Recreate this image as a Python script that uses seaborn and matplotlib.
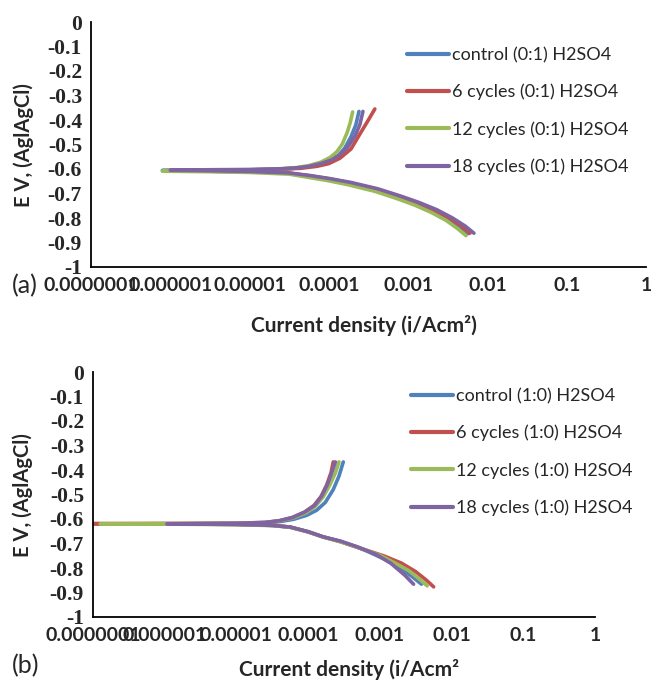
import numpy as np
import pandas as pd
import matplotlib
matplotlib.use('Agg')
import matplotlib.pyplot as plt
import seaborn as sns

sns.set_style('white')
plt.rcParams['font.family'] = ['Lato', 'DejaVu Sans']
plt.rcParams['axes.unicode_minus'] = False

COLORS = ['#4F81BD', '#C0504D', '#9BBB59', '#8064A2']
LABELS_A = ['control (0:1) H2SO4', '6 cycles (0:1) H2SO4', '12 cycles (0:1) H2SO4', '18 cycles (0:1) H2SO4']
LABELS_B = ['control (1:0) H2SO4', '6 cycles (1:0) H2SO4', '12 cycles (1:0) H2SO4', '18 cycles (1:0) H2SO4']
X_TICKS = [1e-7, 1e-6, 1e-5, 1e-4, 1e-3, 1e-2, 1e-1, 1]
X_TICK_LABELS = ['0.0000001', '0.000001', '0.00001', '0.0001', '0.001', '0.01', '0.1', '1']
Y_TICKS = [0, -0.1, -0.2, -0.3, -0.4, -0.5, -0.6, -0.7, -0.8, -0.9, -1]
Y_TICK_LABELS = ['0', '-0.1', '-0.2', '-0.3', '-0.4', '-0.5', '-0.6', '-0.7', '-0.8', '-0.9', '-1']

# panel (a): log10 of current density (A/cm2) and potential (V), sweep order
A_CTRL_LOGI = [-2.24, -2.35, -2.5, -2.69, -2.9, -3.11, -3.4, -3.74, -4.0, -4.24, -4.5, -5.0, -5.5, -6.1,
               -5.5, -5.0, -4.6, -4.4, -4.25, -4.1, -3.98, -3.88, -3.8, -3.72, -3.66, -3.62]
A_CTRL_E = [-0.864, -0.835, -0.80, -0.767, -0.738, -0.714, -0.683, -0.657, -0.641, -0.629, -0.617, -0.611, -0.609, -0.606,
            -0.604, -0.603, -0.600, -0.596, -0.590, -0.579, -0.565, -0.545, -0.515, -0.468, -0.42, -0.365]
A_6_LOGI = [-2.22, -2.33, -2.48, -2.67, -2.88, -3.1, -3.4, -3.74, -4.0, -4.24, -4.5, -5.0, -5.5, -6.05,
            -5.5, -5.0, -4.6, -4.35, -4.15, -4.0, -3.86, -3.72, -3.61, -3.52, -3.42]
A_6_E = [-0.862, -0.833, -0.80, -0.767, -0.738, -0.713, -0.682, -0.656, -0.64, -0.628, -0.617, -0.611, -0.609, -0.607,
         -0.605, -0.604, -0.601, -0.597, -0.589, -0.578, -0.556, -0.518, -0.458, -0.41, -0.355]
A_12_LOGI = [-2.27, -2.37, -2.52, -2.71, -2.92, -3.13, -3.42, -3.76, -4.02, -4.26, -4.5, -5.0, -5.5, -6.1,
             -5.5, -5.0, -4.6, -4.4, -4.25, -4.1, -3.98, -3.9, -3.83, -3.77, -3.73, -3.70]
A_12_E = [-0.872, -0.845, -0.81, -0.777, -0.747, -0.722, -0.691, -0.664, -0.647, -0.634, -0.621, -0.614, -0.611, -0.609,
          -0.606, -0.604, -0.599, -0.594, -0.586, -0.572, -0.552, -0.53, -0.498, -0.452, -0.41, -0.367]
A_18_LOGI = [-2.17, -2.28, -2.44, -2.64, -2.86, -3.08, -3.38, -3.72, -3.99, -4.23, -4.5, -5.0, -5.5, -6.0,
             -5.5, -5.0, -4.6, -4.4, -4.25, -4.1, -3.96, -3.86, -3.76, -3.67, -3.61, -3.57]
A_18_E = [-0.862, -0.833, -0.80, -0.766, -0.737, -0.712, -0.681, -0.655, -0.639, -0.627, -0.616, -0.61, -0.607, -0.605,
          -0.603, -0.602, -0.599, -0.595, -0.589, -0.578, -0.562, -0.542, -0.51, -0.465, -0.42, -0.365]

# panel (b)
B_CTRL_LOGI = [-2.42, -2.55, -2.75, -2.95, -3.15, -3.31, -3.55, -3.79, -4.0, -4.25, -4.5, -5.0, -5.5, -6.0,
               -5.5, -5.0, -4.6, -4.4, -4.2, -4.02, -3.88, -3.76, -3.65, -3.57, -3.51]
B_CTRL_E = [-0.866, -0.835, -0.795, -0.762, -0.735, -0.715, -0.692, -0.673, -0.652, -0.633, -0.626, -0.622, -0.621, -0.62,
            -0.619, -0.618, -0.616, -0.611, -0.601, -0.585, -0.564, -0.532, -0.48, -0.425, -0.367]
B_6_LOGI = [-2.25, -2.35, -2.5, -2.7, -2.95, -3.31, -3.55, -3.79, -4.0, -4.25, -4.5, -5.0, -5.5, -6.0, -7.0,
            -6.0, -5.0, -4.6, -4.4, -4.22, -4.05, -3.92, -3.82, -3.74, -3.68, -3.65]
B_6_E = [-0.877, -0.85, -0.815, -0.78, -0.75, -0.716, -0.692, -0.673, -0.652, -0.633, -0.626, -0.622, -0.621, -0.62, -0.619,
         -0.618, -0.617, -0.614, -0.607, -0.594, -0.572, -0.545, -0.508, -0.46, -0.41, -0.367]
B_12_LOGI = [-2.34, -2.45, -2.6, -2.8, -3.0, -3.31, -3.55, -3.79, -4.0, -4.25, -4.5, -5.0, -5.5, -6.0, -6.9,
             -6.0, -5.0, -4.6, -4.4, -4.2, -4.03, -3.9, -3.79, -3.7, -3.62, -3.57]
B_12_E = [-0.873, -0.845, -0.81, -0.778, -0.748, -0.716, -0.693, -0.674, -0.653, -0.634, -0.627, -0.623, -0.622, -0.621, -0.62,
          -0.619, -0.618, -0.615, -0.608, -0.595, -0.575, -0.548, -0.51, -0.462, -0.412, -0.367]
B_18_LOGI = [-2.53, -2.65, -2.85, -3.05, -3.31, -3.55, -3.79, -4.0, -4.25, -4.5, -5.0, -5.5, -5.97,
             -5.5, -5.0, -4.6, -4.4, -4.22, -4.05, -3.91, -3.81, -3.73, -3.67, -3.62]
B_18_E = [-0.866, -0.83, -0.78, -0.745, -0.714, -0.69, -0.673, -0.652, -0.633, -0.626, -0.622, -0.621, -0.62,
          -0.619, -0.618, -0.614, -0.607, -0.594, -0.572, -0.545, -0.506, -0.458, -0.41, -0.367]


def build_frame(labels, curves):
    rows = []
    for label, (logi, e) in zip(labels, curves):
        for k, (li, ev) in enumerate(zip(logi, e)):
            rows.append({'series': label, 'step': k, 'i': 10.0 ** li, 'E': ev})
    return pd.DataFrame(rows)


def draw_panel(ax, df, labels, xlabel, leg_anchor):
    sns.lineplot(data=df, x='i', y='E', hue='series', hue_order=labels,
                 palette=COLORS, sort=False, estimator=None, units='series',
                 linewidth=2.6, ax=ax, legend=True)
    for line in ax.get_lines():
        line.set_solid_joinstyle('round')
        line.set_solid_capstyle('round')
    ax.set_xscale('log')
    ax.set_xlim(1e-7, 1)
    ax.set_ylim(-1, 0)
    ax.set_xticks(X_TICKS)
    ax.set_xticklabels(X_TICK_LABELS, fontweight='bold', fontsize=14)
    ax.xaxis.set_minor_locator(matplotlib.ticker.NullLocator())
    ax.set_yticks(Y_TICKS)
    ax.set_yticklabels(Y_TICK_LABELS, fontweight='bold', fontsize=15.5,
                       family=['Liberation Serif', 'DejaVu Serif'])
    ax.tick_params(axis='both', length=0)
    ax.tick_params(axis='x', pad=7.5)
    ax.tick_params(axis='y', pad=6.5)
    for side in ['top', 'right']:
        ax.spines[side].set_visible(False)
    for side in ['left', 'bottom']:
        ax.spines[side].set_color('black')
        ax.spines[side].set_linewidth(1.3)
    ax.set_xlabel(xlabel, fontweight='bold', fontsize=15)
    ax.set_ylabel('E V, (AglAgCl)', fontweight='bold', fontsize=14.5)
    handles, hl = ax.get_legend_handles_labels()
    leg = ax.legend(handles, hl, loc='upper left', bbox_to_anchor=leg_anchor,
                    bbox_transform=ax.figure.transFigure, frameon=False,
                    fontsize=13, handlelength=2.3, handletextpad=0.2,
                    labelspacing=1.15, borderpad=0, borderaxespad=0)
    for h in leg.get_lines():
        h.set_linewidth(3.0)


fig = plt.figure(figsize=(6.52, 6.82), dpi=100)
ax_a = fig.add_axes([91 / 652, 1 - 267 / 682, 555 / 652, 245 / 682])
ax_b = fig.add_axes([93 / 652, 1 - 617 / 682, 502 / 652, 245 / 682])

df_a = build_frame(LABELS_A, [(A_CTRL_LOGI, A_CTRL_E), (A_6_LOGI, A_6_E),
                              (A_12_LOGI, A_12_E), (A_18_LOGI, A_18_E)])
df_b = build_frame(LABELS_B, [(B_CTRL_LOGI, B_CTRL_E), (B_6_LOGI, B_6_E),
                              (B_12_LOGI, B_12_E), (B_18_LOGI, B_18_E)])

draw_panel(ax_a, df_a, LABELS_A, 'Current density (i/Acm²)', (407 / 652, 1 - 47 / 682))
draw_panel(ax_b, df_b, LABELS_B, 'Current density (i/Acm²', (411 / 652, 1 - 388 / 682))

ax_a.yaxis.set_label_coords(34 / 652, 1 - 145 / 682, transform=fig.transFigure)
ax_b.yaxis.set_label_coords(33 / 652, 1 - 495 / 682, transform=fig.transFigure)
ax_a.xaxis.set_label_coords(364 / 652, 1 - 315 / 682, transform=fig.transFigure)
ax_b.xaxis.set_label_coords(349 / 652, 1 - 659 / 682, transform=fig.transFigure)

fig.text(25 / 652, 1 - 286 / 682, '(a)', fontsize=18, ha='center', va='center')
fig.text(26 / 652, 1 - 666 / 682, '(b)', fontsize=18, ha='center', va='center')

fig.savefig('out.png', dpi=100)
